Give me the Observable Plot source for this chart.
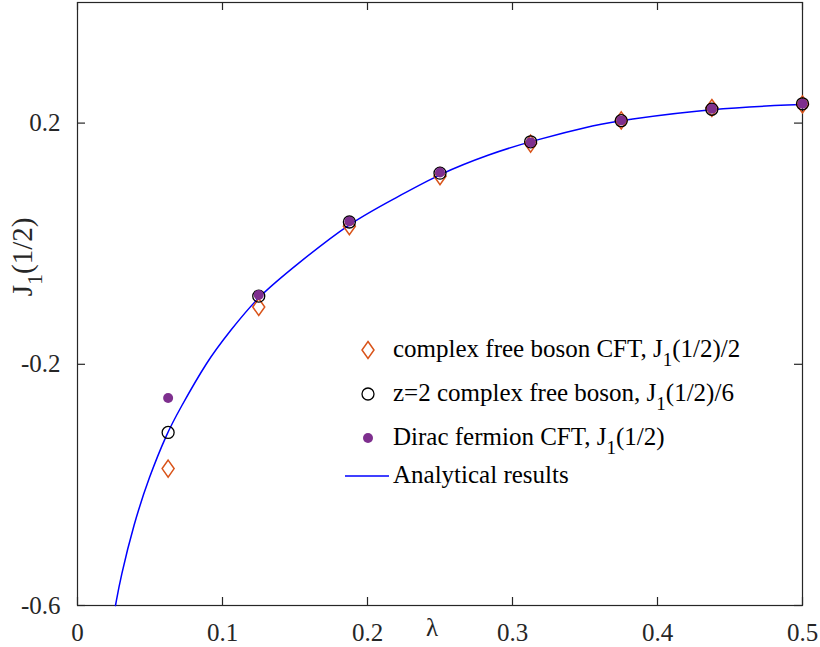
<!DOCTYPE html>
<html><head><meta charset="utf-8">
<script src="https://cdn.jsdelivr.net/npm/d3@7"></script>
<script src="https://cdn.jsdelivr.net/npm/@observablehq/plot@0.6"></script>
<style>body{margin:0;background:#fff} #chart{width:820px;height:647px}</style>
</head><body><div id="chart"></div>
<script>
// ---- data ----
const lambdas   = [0.0625, 0.125, 0.1875, 0.25, 0.3125, 0.375, 0.4375, 0.5];
const bosonCFT  = [-0.373, -0.105, 0.029, 0.112, 0.166, 0.2045, 0.225, 0.231];   // J1(1/2)/2
const bosonZ2   = [-0.313, -0.087, 0.036, 0.117, 0.169, 0.204, 0.223, 0.232];    // J1(1/2)/6
const diracCFT  = [-0.256, -0.085, 0.037, 0.118, 0.168, 0.2045, 0.224, 0.232];   // J1(1/2)
const curveLambda = [0.0262, 0.0297, 0.0388, 0.0492, 0.0619, 0.0699, 0.0894, 0.1055, 0.1246, 0.1515, 0.1876, 0.2205, 0.2497, 0.2848, 0.3125, 0.3607, 0.375, 0.4372, 0.5];
const curveJ      = [-0.600, -0.554, -0.465, -0.388, -0.313, -0.277, -0.194, -0.144, -0.087, -0.034, 0.035, 0.077, 0.116, 0.149, 0.170, 0.199, 0.2045, 0.2244, 0.231];
const xTicks = [0, 0.1, 0.2, 0.3, 0.4, 0.5];
const yTicks = [-0.6, -0.2, 0.2];
const seriesNames = ["complex free boson CFT, J", "z=2 complex free boson, J", "Dirac fermion CFT, J", "Analytical results"];
const seriesSuffix = ["(1/2)/2", "(1/2)/6", "(1/2)", ""];

// ---- build tables ----
const pts = (ys) => lambdas.map((x, i) => ({x, y: ys[i]}));
const curve = curveLambda.map((x, i) => ({x, y: curveJ[i]}));

const W = 820, H = 647, mL = 77, mR = 18, mT = 2, mB = 42;
const fw = W - mL - mR, fh = H - mT - mB, tk = 8;
const axisColor = "#262626";
const FONT = "'Liberation Serif', 'Times New Roman', serif";

const tallDiamond = {
  draw(ctx, size) {
    const r = Math.sqrt(size / Math.PI), w = r, h = r * 1.42;
    ctx.moveTo(0, -h); ctx.lineTo(w, 0); ctx.lineTo(0, h); ctx.lineTo(-w, 0); ctx.closePath();
  }
};

const plot = Plot.plot({
  width: W, height: H,
  marginLeft: mL, marginRight: mR, marginTop: mT, marginBottom: mB,
  x: {domain: [0, 0.5]},
  y: {domain: [-0.6, 0.4]},
  style: {fontFamily: FONT, fontSize: "25px", color: axisColor, background: "#fff"},
  marks: [
    Plot.frame({stroke: axisColor, strokeWidth: 1.2}),
    Plot.ruleX(xTicks, {x: d => d, insetTop: fh - tk, stroke: axisColor, strokeWidth: 1.2}),
    Plot.ruleX(xTicks, {x: d => d, insetBottom: fh - tk, stroke: axisColor, strokeWidth: 1.2}),
    Plot.ruleY(yTicks, {y: d => d, insetRight: fw - tk, stroke: axisColor, strokeWidth: 1.2}),
    Plot.ruleY(yTicks, {y: d => d, insetLeft: fw - tk, stroke: axisColor, strokeWidth: 1.2}),
    Plot.line(curve, {x: "x", y: "y", stroke: "#0000ff", strokeWidth: 1.5, curve: "basis"}),
    Plot.dot(pts(bosonCFT), {x: "x", y: "y", symbol: tallDiamond, r: 6, stroke: "#D95319", strokeWidth: 1.5, fill: "none"}),
    Plot.dot(pts(bosonZ2), {x: "x", y: "y", symbol: "circle", r: 6, stroke: "#000", strokeWidth: 1.3, fill: "none"}),
    Plot.dot(pts(diracCFT), {x: "x", y: "y", symbol: "circle", r: 5, fill: "#7E2F8E", stroke: "none"}),
    Plot.axisX({ticks: xTicks, tickSize: 0, tickPadding: 18, tickFormat: d => String(d), label: null, fontSize: 25}),
    Plot.axisY({ticks: yTicks, tickSize: 0, tickPadding: 17, tickFormat: d => String(d), label: null, fontSize: 25}),
    Plot.text(["λ"], {text: d => d, frameAnchor: "bottom", dx: -8, dy: 30, fontSize: 25, fill: axisColor})
  ]
});
document.getElementById("chart").appendChild(plot);

// ---- y label and legend (with subscripts) ----
const svg = d3.select(plot);
function subText(sel, pre, post, shift, subSize) {
  sel.append("tspan").text(pre);
  sel.append("tspan").attr("dy", shift).attr("font-size", subSize).text("1");
  sel.append("tspan").attr("dy", -shift).text(post);
}
const yl = svg.append("text")
  .attr("transform", "translate(32,257) rotate(-90)")
  .attr("text-anchor", "middle").attr("font-family", FONT).attr("font-size", 29).attr("fill", axisColor);
subText(yl, "J", "(1/2)", 10, 22);

const lg = svg.append("g").attr("font-family", FONT).attr("font-size", 25).attr("fill", "#000").attr("text-anchor", "start");
const rowsY = [350, 394, 438, 476];
const symX = 368, txtX = 393;
lg.append("path").attr("transform", `translate(${symX},${rowsY[0]})`)
  .attr("d", d3.symbol(tallDiamond, Math.PI * 36)()).attr("fill", "none").attr("stroke", "#D95319").attr("stroke-width", 1.5);
lg.append("circle").attr("cx", symX).attr("cy", rowsY[1]).attr("r", 6).attr("fill", "none").attr("stroke", "#000").attr("stroke-width", 1.3);
lg.append("circle").attr("cx", symX).attr("cy", rowsY[2]).attr("r", 5).attr("fill", "#7E2F8E");
lg.append("line").attr("x1", 345).attr("x2", 389).attr("y1", rowsY[3]).attr("y2", rowsY[3]).attr("stroke", "#0000ff").attr("stroke-width", 1.5);
seriesNames.forEach((name, i) => {
  const t = lg.append("text").attr("x", txtX).attr("y", rowsY[i] + 7).attr("text-anchor", "start");
  if (seriesSuffix[i]) subText(t, name, seriesSuffix[i], 9, 19); else t.text(name);
});
</script>
</body></html>
